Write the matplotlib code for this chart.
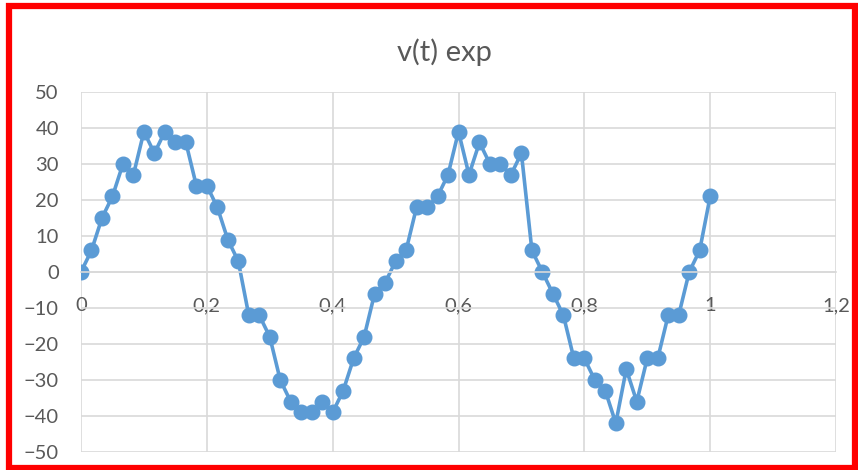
import matplotlib.pyplot as plt
from matplotlib.patches import Rectangle

# tempo (s) e tensao medida
n_pontos = 61
tempo = [i / 60 for i in range(n_pontos)]
tensao = [0, 6, 15, 21, 30, 27, 39, 33, 39, 36, 36, 24, 24, 18, 9, 3,
          -12, -12, -18, -30, -36, -39, -39, -36, -39, -33, -24, -18, -6, -3,
          3, 6, 18, 18, 21, 27, 39, 27, 36, 30, 30, 27, 33, 6, 0, -6, -12,
          -24, -24, -30, -33, -42, -27, -36, -24, -24, -12, -12, 0, 6, 21]

ticks_x = [0, 0.2, 0.4, 0.6, 0.8, 1.0, 1.2]
labels_x = ['0', '0,2', '0,4', '0,6', '0,8', '1', '1,2']
ticks_y = [50, 40, 30, 20, 10, 0, -10, -20, -30, -40, -50]

azul = '#5B9BD5'
cinza_texto = '#595959'
cinza_grade = '#D9D9D9'

plt.rcParams['font.family'] = ['Lato', 'DejaVu Sans']

fig = plt.figure(figsize=(8.58, 4.70), dpi=100)
ax = fig.add_axes([81 / 858, 18 / 470, 755 / 858, 360 / 470])

ax.plot(tempo, tensao, color=azul, linewidth=2.6, marker='o',
        markersize=10.5, markerfacecolor=azul, markeredgecolor=azul)

ax.set_xlim(0, 1.2)
ax.set_ylim(-50, 50)
ax.set_xticks(ticks_x)
ax.set_xticklabels(labels_x)
ax.set_yticks(ticks_y)

ax.grid(True, color=cinza_grade, linewidth=1.2)
ax.set_axisbelow(True)

for lado in ['top', 'right', 'left']:
    ax.spines[lado].set_visible(False)
ax.spines['bottom'].set_position(('data', 0))
ax.spines['bottom'].set_color(cinza_grade)
ax.spines['bottom'].set_linewidth(1.2)

ax.tick_params(axis='x', length=0, pad=18, labelsize=14.5, labelcolor=cinza_texto)
ax.tick_params(axis='y', length=0, pad=16, labelsize=14.5, labelcolor=cinza_texto)

fig.text(444 / 858, 1 - 52 / 470, 'v(t) exp', ha='center', va='center',
         fontsize=21, color=cinza_texto)

# moldura vermelha do grafico
fig.patches.append(Rectangle((9 / 858, 2 / 470), 846 / 858, 462 / 470,
                             transform=fig.transFigure, fill=False,
                             edgecolor='red', linewidth=4.5))

fig.savefig('out.png', dpi=100)
